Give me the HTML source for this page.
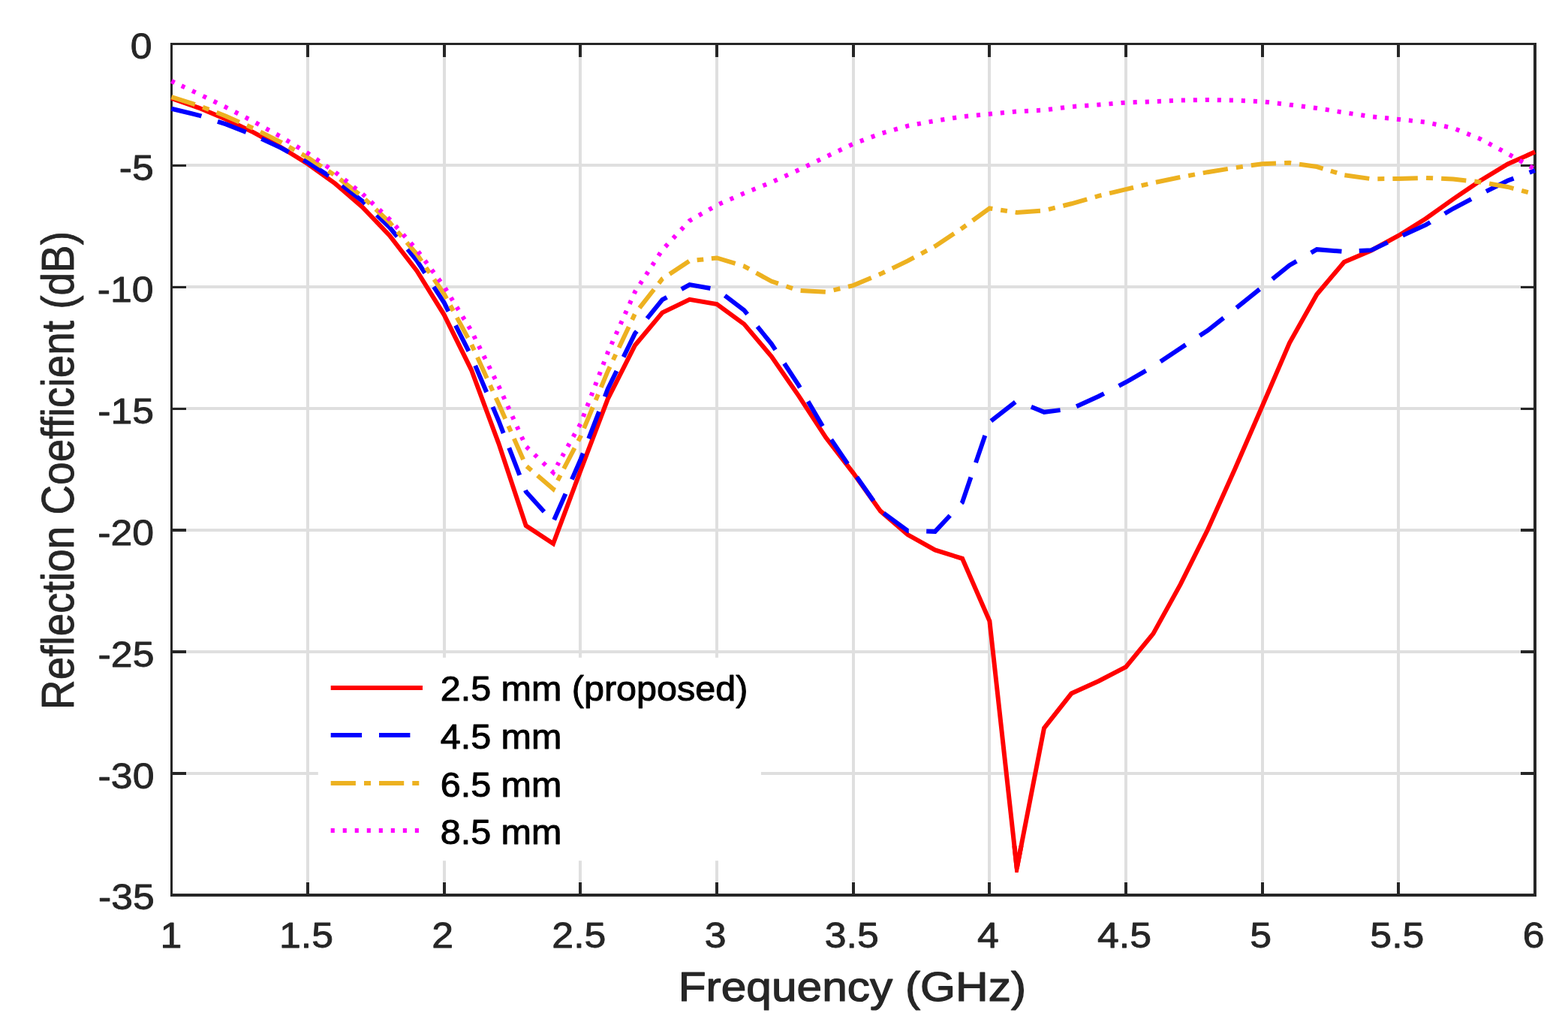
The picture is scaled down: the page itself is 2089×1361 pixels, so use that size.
<!DOCTYPE html><html><head><meta charset="utf-8"><title>Reflection Coefficient</title><style>html,body{margin:0;padding:0;background:#fff;overflow:hidden;}svg{display:block;}text{font-family:"Liberation Sans",Arial,Helvetica,sans-serif;}</style></head><body>
<svg width="2089" height="1361" viewBox="0 0 2089 1361">
<rect x="0" y="0" width="2089" height="1361" fill="#fff"/>
<path d="M410.05 58.50V1192.01M591.72 58.50V1192.01M773.38 58.50V1192.01M955.05 58.50V1192.01M1136.71 58.50V1192.01M1318.38 58.50V1192.01M1500.05 58.50V1192.01M1681.71 58.50V1192.01M1863.38 58.50V1192.01M228.39 220.43H2045.04M228.39 382.36H2045.04M228.39 544.29H2045.04M228.39 706.22H2045.04M228.39 868.15H2045.04M228.39 1030.08H2045.04" stroke="#262626" stroke-opacity="0.15" stroke-width="4" fill="none" shape-rendering="crispEdges"/>
<path d="M227.0 58.5H2047.0M228.5 57.0V1194.0" stroke="#262626" stroke-width="3" fill="none" shape-rendering="crispEdges"/>
<path d="M227.0 1192.0H2047.0M2045.0 57.0V1194.0" stroke="#262626" stroke-width="4" fill="none" shape-rendering="crispEdges"/>
<path d="M410.05 1192.00V1174.50M410.05 58.50V76.00M591.72 1192.00V1174.50M591.72 58.50V76.00M773.38 1192.00V1174.50M773.38 58.50V76.00M955.05 1192.00V1174.50M955.05 58.50V76.00M1136.71 1192.00V1174.50M1136.71 58.50V76.00M1318.38 1192.00V1174.50M1318.38 58.50V76.00M1500.05 1192.00V1174.50M1500.05 58.50V76.00M1681.71 1192.00V1174.50M1681.71 58.50V76.00M1863.38 1192.00V1174.50M1863.38 58.50V76.00" stroke="#262626" stroke-width="4" fill="none" shape-rendering="crispEdges"/>
<path d="M228.50 220.43H248.00M2045.00 220.43H2025.50M228.50 382.36H248.00M2045.00 382.36H2025.50M228.50 544.29H248.00M2045.00 544.29H2025.50M228.50 706.22H248.00M2045.00 706.22H2025.50M228.50 868.15H248.00M2045.00 868.15H2025.50M228.50 1030.08H248.00M2045.00 1030.08H2025.50" stroke="#262626" stroke-width="3.5" fill="none" shape-rendering="crispEdges"/>
<path d="M228.39,130.92L264.72,143.55 301.06,158.73 337.39,176.09 373.72,195.75 410.05,218.20 446.39,244.36 482.72,275.62 519.05,313.67 555.39,360.73 591.72,419.31 628.05,492.80 664.39,590.60 700.72,700.07 737.05,724.03 773.38,626.87 809.72,531.34 846.05,459.76 882.38,416.37 918.72,398.88 955.05,405.03 991.38,431.59 1027.72,474.66 1064.05,527.13 1100.38,582.83 1136.71,629.79 1173.05,680.64 1209.38,712.05 1245.71,732.45 1282.05,743.79 1318.38,827.02 1354.71,1156.39 1391.05,969.52 1427.38,923.53 1463.71,907.01 1500.05,888.23 1536.38,843.86 1572.71,778.12 1609.04,705.25 1645.38,624.28 1681.71,540.73 1718.04,456.52 1754.38,392.08 1790.71,349.00 1827.04,333.46 1863.38,313.70 1899.71,291.03 1936.04,265.12 1972.37,240.51 2008.71,218.49 2045.04,202.29" fill="none" stroke="#ff0000" stroke-width="6" stroke-linejoin="miter" stroke-miterlimit="3"/>
<clipPath id="tipclip"><rect x="1334.71" y="1126.39" width="40" height="35.50"/></clipPath>
<path d="M1318.38,827.02L1354.71,1156.39L1391.05,969.52" fill="none" stroke="#ff0000" stroke-width="6" stroke-linejoin="miter" stroke-miterlimit="50" clip-path="url(#tipclip)"/>
<path d="M228.39,144.74L264.72,153.52 268.38,154.72M289.97,161.78L301.06,165.41 327.86,175.99M348.36,184.83L373.72,196.56 384.72,202.49M404.36,213.08L410.05,216.16 438.12,234.12M455.93,246.83L482.72,267.68 486.53,271.36M502.01,286.32L519.05,302.79 529.18,315.12M543.02,331.97L555.39,347.03 566.17,363.67M577.94,381.84L591.72,403.12 597.52,414.54M607.03,433.27L624.43,467.53M633.20,486.82L648.21,522.27M656.51,541.88L664.39,560.48 670.71,576.89M678.22,596.37L692.26,632.79M700.03,652.93L700.72,654.73 724.90,681.45M738.20,692.29L753.45,657.61M761.89,638.42L773.38,612.30 776.73,603.62M784.25,584.13L798.13,548.13M805.80,528.21L809.72,518.06 821.49,494.03M830.66,475.31L846.05,443.89 848.37,441.04M862.08,424.18L882.38,399.20 888.43,395.86M907.86,385.12L918.72,379.12 946.41,384.06M965.70,393.66L991.38,413.13 995.67,418.40M1009.06,434.87L1027.72,457.82 1033.05,465.94M1044.89,484.00L1064.05,513.20 1065.82,516.21M1076.54,534.47L1095.95,567.52M1107.42,585.41L1129.29,617.57M1141.49,635.30L1163.70,666.98M1177.30,683.42L1209.38,706.87 1210.77,706.90M1234.21,707.53L1245.71,707.84 1265.71,686.45M1280.91,670.19L1282.05,668.98 1293.43,635.50M1300.01,616.14L1312.33,579.91M1320.33,560.59L1352.77,535.44M1373.84,541.77L1391.05,548.82 1412.59,546.14M1434.13,541.22L1463.71,527.77 1470.80,524.11M1490.63,513.86L1500.05,508.99 1526.71,493.54M1546.07,481.46L1572.71,463.65 1579.67,459.12M1598.39,446.94L1609.04,440.01 1630.20,423.41M1647.37,409.91L1678.15,385.21M1695.18,371.55L1718.04,353.21 1727.34,347.83M1746.68,336.62L1754.38,332.16 1787.44,334.81M1810.78,334.00L1827.04,333.13 1848.70,322.90M1868.74,313.53L1899.71,299.45 1905.47,296.01M1924.68,284.54L1936.04,277.75 1960.08,265.11M1979.97,254.85L2008.71,240.51 2016.54,237.58M2037.62,229.69L2045.04,226.91" fill="none" stroke="#0000ff" stroke-width="6" stroke-linejoin="miter" stroke-miterlimit="3"/>
<path d="M228.39,129.20L259.79,139.05M270.14,142.69L278.43,145.90M288.56,149.82L301.06,154.65 318.93,162.62M328.98,167.10L337.13,170.73M346.85,175.60L373.72,189.11 375.62,190.19M384.97,195.50L392.55,199.80M401.81,205.06L410.05,209.74 428.62,221.94M437.47,227.75L444.64,232.46M452.98,238.73L478.38,258.48M486.51,265.43L492.81,271.37M500.49,278.63L519.05,296.15 522.91,300.65M529.71,308.58L535.21,315.00M541.95,322.86L555.39,338.54 561.64,347.66M567.60,356.35L572.43,363.40M578.34,372.02L591.72,391.53 595.10,397.75M599.97,406.72L603.92,414.00M608.75,422.90L623.45,449.99M628.32,459.06L631.79,466.62M636.02,475.86L648.74,503.65M653.00,512.95L656.45,520.48M660.67,529.69L664.39,537.81 673.20,557.77M677.35,567.17L680.72,574.80M684.84,584.12L697.12,611.93M701.71,620.92L708.19,626.47M716.11,633.25L737.05,651.16 738.35,648.68M742.92,639.92L746.62,632.83M751.15,624.15L765.52,596.61M770.33,587.40L773.38,581.53 774.08,579.87M778.02,570.42L789.77,542.25M793.70,532.82L796.89,525.19M800.78,515.85L809.72,494.42 812.57,488.38M816.86,479.33L820.34,471.99M824.58,463.01L837.75,435.20M842.15,425.90L845.72,418.36M851.97,410.12L871.28,385.51M877.73,377.28L882.38,371.35 883.19,370.81M892.09,364.95L918.13,347.77M928.65,346.32L937.28,345.40M947.84,344.27L955.05,343.50 979.65,350.95M990.18,354.14L991.38,354.51 998.00,358.16M1007.41,363.37L1027.72,374.59 1036.94,377.71M1047.46,381.28L1055.99,384.16M1066.57,387.03L1099.81,388.81M1110.60,386.38L1119.33,384.28M1130.00,381.71L1136.71,380.09 1160.73,370.03M1170.88,365.78L1173.05,364.87 1178.94,362.04M1188.72,357.33L1209.38,347.38 1217.72,342.92M1227.25,337.83L1234.98,333.69M1244.42,328.65L1245.71,327.95 1271.18,310.93M1280.10,304.96L1282.05,303.66 1287.19,299.95M1295.79,293.74L1318.38,277.43 1322.35,278.03M1333.17,279.67L1341.93,281.00M1352.65,282.62L1354.71,282.93 1385.97,280.71M1396.92,278.88L1405.67,276.70M1416.36,274.03L1427.38,271.28 1448.21,265.33M1458.82,262.31L1463.71,260.91 1467.47,260.01M1478.13,257.44L1500.05,252.17 1510.02,249.77M1520.68,247.20L1529.33,245.12M1539.93,242.70L1572.31,236.06M1583.18,234.02L1591.99,232.37M1602.77,230.35L1609.04,229.17 1635.79,224.88M1646.85,223.13L1655.84,221.85M1666.83,220.29L1681.71,218.16 1699.98,217.51M1711.13,217.11L1718.04,216.87 1720.14,217.17M1731.05,218.72L1754.38,222.05 1762.63,224.55M1772.88,227.66L1781.19,230.18M1791.38,233.16L1824.26,237.85M1835.35,238.17L1844.38,238.09M1855.40,237.99L1863.38,237.92 1888.87,237.24M1900.06,236.96L1909.12,237.37M1920.20,237.86L1936.04,238.57 1953.33,240.42M1964.37,241.60L1972.37,242.45 1973.32,242.62M1984.14,244.55L2008.71,248.93 2016.55,251.03M2027.21,253.88L2035.85,256.19" fill="none" stroke="#edb120" stroke-width="6" stroke-linejoin="miter" stroke-miterlimit="3"/>
<path d="M228.39,108.02L232.67,110.03M241.84,114.33L246.27,116.40M256.07,120.99L260.64,123.14M270.38,127.82L274.91,130.05M284.61,134.80L289.14,137.02M298.84,141.78L301.06,142.87 303.32,144.04M312.84,148.96L317.28,151.25M326.80,156.17L331.24,158.47M340.69,163.48L345.06,165.91M354.40,171.10L358.76,173.52M368.11,178.71L372.48,181.14M381.63,186.66L385.89,189.27M395.01,194.84L399.27,197.45M408.39,203.02L410.05,204.04 412.54,205.76M421.28,211.79L425.36,214.60M434.10,220.63L438.19,223.45M446.90,229.51L450.76,232.59M459.02,239.16L462.86,242.22M471.06,248.75L474.89,251.79M483.06,258.35L486.60,261.67M494.20,268.79L497.74,272.11M505.33,279.23L508.88,282.56M516.47,289.67L519.05,292.10 519.93,293.08M526.85,300.82L530.09,304.43M537.01,312.17L540.24,315.78M547.16,323.52L550.39,327.13M557.10,335.02L559.97,338.88M566.11,347.15L568.98,351.01M575.11,359.26L577.97,363.11M584.10,371.36L586.96,375.21M592.91,383.55L595.40,387.60M600.71,396.23L603.19,400.26M608.50,408.88L610.98,412.91M616.29,421.54L618.77,425.57M624.08,434.20L626.57,438.24M631.30,447.23L633.40,451.48M637.90,460.57L640.00,464.82M644.49,473.92L646.59,478.17M651.09,487.26L653.19,491.51M657.68,500.61L659.78,504.84M664.25,513.89L664.39,514.17 666.19,518.17M670.34,527.34L672.28,531.63M676.43,540.80L678.37,545.08M682.52,554.25L684.48,558.58M688.72,567.95L690.70,572.33M694.93,581.70L696.88,586.01M701.20,594.94L704.66,598.25M712.08,605.32L715.62,608.70M723.40,616.12L727.03,619.59M734.81,627.00L737.05,629.14 737.83,627.75M742.38,619.64L744.51,615.85M749.06,607.74L751.29,603.76M756.30,594.83L758.64,590.66M763.65,581.72L765.99,577.55M771.00,568.62L773.34,564.45M776.98,554.98L778.68,550.55M782.30,541.07L784.00,536.65M787.63,527.17L789.31,522.77M792.90,513.40L794.58,509.03M798.16,499.66L799.84,495.28M803.43,485.91L805.10,481.54M808.69,472.17L809.72,469.48 810.46,467.83M814.58,458.64L816.50,454.36M820.62,445.17L822.55,440.89M826.67,431.70L828.60,427.41M832.74,418.19L834.67,413.88M838.81,404.66L840.74,400.35M844.88,391.13L846.05,388.51 847.07,386.95M852.65,378.39L855.26,374.39M860.84,365.84L863.45,361.84M869.03,353.29L871.64,349.29M877.22,340.73L879.84,336.71M886.32,328.60L889.66,325.02M896.82,317.36L900.17,313.79M907.33,306.13L910.67,302.55M917.84,294.89L918.72,293.95 921.89,292.14M931.06,286.90L935.35,284.46M944.52,279.23L948.80,276.78M958.16,271.86L962.74,269.86M972.61,265.55L977.23,263.53M987.10,259.22L991.38,257.35 991.71,257.22M1001.73,253.20L1006.41,251.32M1016.43,247.30L1021.11,245.42M1031.06,241.26L1035.63,239.18M1045.43,234.72L1050.01,232.64M1059.84,228.17L1064.05,226.26 1064.43,226.08M1074.14,221.40L1078.68,219.22M1088.40,214.54L1092.93,212.36M1102.66,207.70L1107.21,205.55M1116.96,200.94L1121.52,198.79M1131.27,194.18L1135.82,192.03M1145.91,188.17L1150.63,186.40M1160.76,182.61L1165.49,180.83M1175.69,177.25L1180.56,175.86M1190.99,172.89L1195.85,171.50M1206.28,168.53L1209.38,167.64 1211.19,167.30M1221.89,165.30L1226.88,164.37M1237.57,162.36L1242.57,161.43M1253.32,159.69L1258.35,158.92M1269.14,157.29L1274.18,156.53M1284.99,155.05L1290.07,154.55M1300.94,153.48L1306.02,152.98M1316.90,151.92L1318.38,151.77 1321.98,151.45M1332.86,150.48L1337.95,150.03M1348.86,149.05L1353.96,148.60M1364.90,147.99L1370.01,147.71M1380.96,147.13L1386.07,146.86M1396.97,145.85L1402.06,145.22M1412.99,143.85L1418.10,143.21M1429.05,141.94L1434.19,141.57M1445.19,140.79L1450.33,140.42M1461.33,139.63L1463.71,139.47 1466.46,139.24M1477.42,138.37L1482.54,137.95M1493.49,137.08L1498.61,136.67M1509.60,136.21L1514.73,136.03M1525.72,135.63L1530.85,135.45M1541.84,135.01L1546.95,134.78M1557.83,134.30L1562.92,134.07M1573.80,133.62L1578.89,133.53M1589.79,133.33L1594.87,133.24M1605.77,133.05L1609.04,132.99 1610.86,133.02M1621.75,133.21L1626.85,133.31M1637.78,133.50L1642.89,133.59M1653.81,134.01L1658.91,134.24M1669.83,134.73L1674.94,134.95M1685.83,135.73L1690.91,136.32M1701.84,137.59L1706.94,138.18M1717.87,139.44L1718.04,139.47 1722.96,140.08M1733.87,141.44L1738.97,142.08M1749.88,143.44L1754.38,144.00 1754.96,144.09M1765.76,145.83L1770.80,146.63M1781.60,148.37L1786.64,149.18M1797.45,150.85L1802.50,151.62M1813.31,153.25L1818.35,154.02M1829.14,155.54L1834.21,156.04M1845.06,157.10L1850.12,157.60M1860.98,158.66L1863.38,158.90 1866.04,159.18M1876.87,160.34L1881.92,160.88M1892.75,162.04L1897.81,162.58M1908.46,164.66L1913.44,165.72M1924.14,168.01L1929.13,169.08M1939.61,171.99L1944.31,173.87M1954.37,177.91L1959.07,179.79M1969.14,183.83L1972.37,185.13 1973.75,185.86M1983.20,190.92L1987.61,193.28M1997.06,198.33L2001.48,200.69M2010.89,205.81L2015.23,208.28M2024.50,213.57L2028.83,216.04M2038.10,221.33L2042.43,223.80" fill="none" stroke="#ff00ff" stroke-width="6" stroke-linejoin="miter" stroke-miterlimit="3"/>
<rect x="423.8" y="875.8" width="590.1" height="270.4" fill="#fff"/>
<path d="M440.70,916.00L563.00,916.00" fill="none" stroke="#ff0000" stroke-width="6" stroke-linejoin="miter" stroke-miterlimit="3"/>
<path d="M440.70,978.90L482.10,978.90M505.00,978.90L546.40,978.90" fill="none" stroke="#0000ff" stroke-width="6" stroke-linejoin="miter" stroke-miterlimit="3"/>
<path d="M440.70,1043.00L473.90,1043.00M485.00,1043.00L494.00,1043.00M505.00,1043.00L538.20,1043.00M549.30,1043.00L558.30,1043.00" fill="none" stroke="#edb120" stroke-width="6" stroke-linejoin="miter" stroke-miterlimit="3"/>
<path d="M440.70,1105.90L445.80,1105.90M456.72,1105.90L461.82,1105.90M472.74,1105.90L477.84,1105.90M488.76,1105.90L493.86,1105.90M504.78,1105.90L509.88,1105.90M520.80,1105.90L525.90,1105.90M536.82,1105.90L541.92,1105.90M552.84,1105.90L557.94,1105.90" fill="none" stroke="#ff00ff" stroke-width="6" stroke-linejoin="miter" stroke-miterlimit="3"/>
<text transform="matrix(0.48500 0 0 0.46000 586.70 933.30)" font-size="100" fill="#000" stroke="#000" stroke-width="2.116" stroke-linejoin="round">2.5 mm (proposed)</text>
<text transform="matrix(0.48500 0 0 0.46000 586.70 996.50)" font-size="100" fill="#000" stroke="#000" stroke-width="2.116" stroke-linejoin="round">4.5 mm</text>
<text transform="matrix(0.48500 0 0 0.46000 586.70 1060.50)" font-size="100" fill="#000" stroke="#000" stroke-width="2.116" stroke-linejoin="round">6.5 mm</text>
<text transform="matrix(0.48500 0 0 0.46000 586.70 1123.80)" font-size="100" fill="#000" stroke="#000" stroke-width="2.116" stroke-linejoin="round">8.5 mm</text>
<text transform="matrix(0.51800 0 0 0.48300 227.79 1262.05)" font-size="100" fill="#262626" stroke="#262626" stroke-width="1.798" stroke-linejoin="round" text-anchor="middle">1</text>
<text transform="matrix(0.51800 0 0 0.48300 408.05 1262.05)" font-size="100" fill="#262626" stroke="#262626" stroke-width="1.798" stroke-linejoin="round" text-anchor="middle">1.5</text>
<text transform="matrix(0.51800 0 0 0.48300 589.72 1262.05)" font-size="100" fill="#262626" stroke="#262626" stroke-width="1.798" stroke-linejoin="round" text-anchor="middle">2</text>
<text transform="matrix(0.51800 0 0 0.48300 771.38 1262.05)" font-size="100" fill="#262626" stroke="#262626" stroke-width="1.798" stroke-linejoin="round" text-anchor="middle">2.5</text>
<text transform="matrix(0.51800 0 0 0.48300 953.05 1262.05)" font-size="100" fill="#262626" stroke="#262626" stroke-width="1.798" stroke-linejoin="round" text-anchor="middle">3</text>
<text transform="matrix(0.51800 0 0 0.48300 1134.71 1262.05)" font-size="100" fill="#262626" stroke="#262626" stroke-width="1.798" stroke-linejoin="round" text-anchor="middle">3.5</text>
<text transform="matrix(0.51800 0 0 0.48300 1316.38 1262.05)" font-size="100" fill="#262626" stroke="#262626" stroke-width="1.798" stroke-linejoin="round" text-anchor="middle">4</text>
<text transform="matrix(0.51800 0 0 0.48300 1498.05 1262.05)" font-size="100" fill="#262626" stroke="#262626" stroke-width="1.798" stroke-linejoin="round" text-anchor="middle">4.5</text>
<text transform="matrix(0.51800 0 0 0.48300 1679.71 1262.05)" font-size="100" fill="#262626" stroke="#262626" stroke-width="1.798" stroke-linejoin="round" text-anchor="middle">5</text>
<text transform="matrix(0.51800 0 0 0.48300 1861.38 1262.05)" font-size="100" fill="#262626" stroke="#262626" stroke-width="1.798" stroke-linejoin="round" text-anchor="middle">5.5</text>
<text transform="matrix(0.51800 0 0 0.48300 2043.04 1262.05)" font-size="100" fill="#262626" stroke="#262626" stroke-width="1.798" stroke-linejoin="round" text-anchor="middle">6</text>
<text transform="matrix(0.51800 0 0 0.48300 173.67 77.97)" font-size="100" fill="#262626" stroke="#262626" stroke-width="1.798" stroke-linejoin="round">0</text>
<text transform="matrix(0.51800 0 0 0.48300 158.68 239.90)" font-size="100" fill="#262626" stroke="#262626" stroke-width="1.798" stroke-linejoin="round">-5</text>
<text transform="matrix(0.51800 0 0 0.48300 129.72 401.83)" font-size="100" fill="#262626" stroke="#262626" stroke-width="1.798" stroke-linejoin="round">-10</text>
<text transform="matrix(0.51800 0 0 0.48300 130.17 563.76)" font-size="100" fill="#262626" stroke="#262626" stroke-width="1.798" stroke-linejoin="round">-15</text>
<text transform="matrix(0.51800 0 0 0.48300 130.22 725.69)" font-size="100" fill="#262626" stroke="#262626" stroke-width="1.798" stroke-linejoin="round">-20</text>
<text transform="matrix(0.51800 0 0 0.48300 130.57 887.62)" font-size="100" fill="#262626" stroke="#262626" stroke-width="1.798" stroke-linejoin="round">-25</text>
<text transform="matrix(0.51800 0 0 0.48300 130.62 1049.55)" font-size="100" fill="#262626" stroke="#262626" stroke-width="1.798" stroke-linejoin="round">-30</text>
<text transform="matrix(0.51800 0 0 0.48300 130.97 1211.48)" font-size="100" fill="#262626" stroke="#262626" stroke-width="1.798" stroke-linejoin="round">-35</text>
<text transform="matrix(0.60447 0 0 0.54731 903.69 1333.35)" font-size="100" fill="#262626" stroke="#262626" stroke-width="2.257" stroke-linejoin="round">Frequency (GHz)</text>
<text transform="matrix(0 -0.54924 0.61412 0 97.65 944.90)" font-size="100" fill="#262626" stroke="#262626" stroke-width="1.375" stroke-linejoin="round">Reflection Coefficient (dB)</text>
</svg></body></html>
